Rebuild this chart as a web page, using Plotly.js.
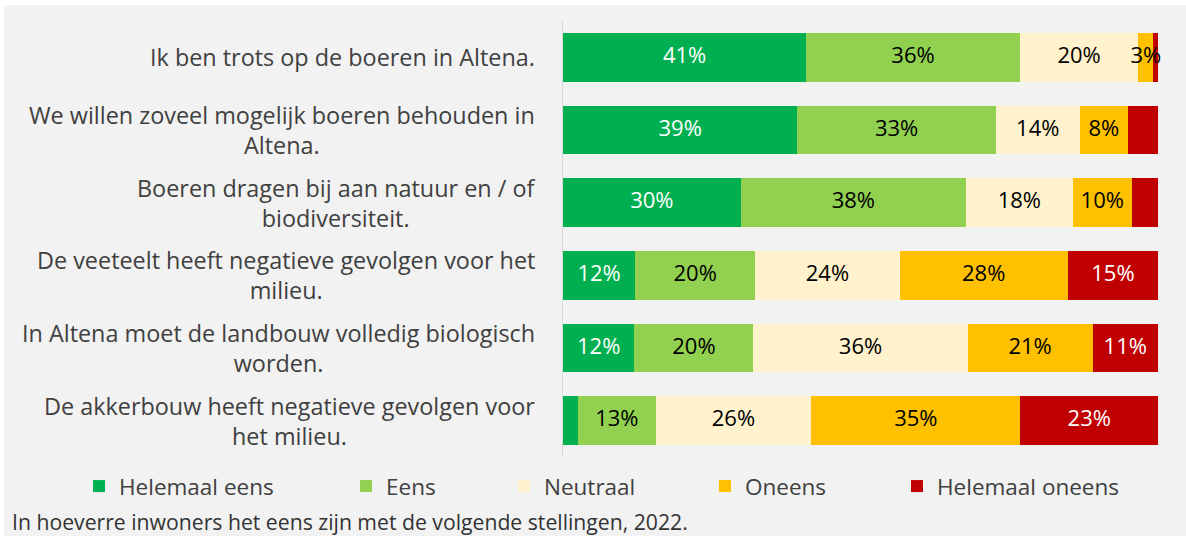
<!DOCTYPE html>
<html><head><meta charset="utf-8">
<script src="https://cdn.plot.ly/plotly-3.0.1.min.js"></script>
<style>
html,body{margin:0;padding:0;background:#ffffff;}
#chart{position:absolute;left:4px;top:5px;width:1182px;height:531px;}
</style></head>
<body><div id="chart"></div>
<script>
// ---- data ----
const categories = [
  'Ik ben trots op de boeren in Altena.',
  'We willen zoveel mogelijk boeren behouden in<br>Altena.',
  'Boeren dragen bij aan natuur en / of<br>biodiversiteit.',
  'De veeteelt heeft negatieve gevolgen voor het<br>milieu.',
  'In Altena moet de landbouw volledig biologisch<br>worden.',
  'De akkerbouw heeft negatieve gevolgen voor<br>het milieu.'
];
const seriesNames = ['Helemaal eens', 'Eens', 'Neutraal', 'Oneens', 'Helemaal oneens'];
const helemaalEens   = [41, 39, 30, 12, 12, 2.5];
const eens           = [36, 33, 38, 20, 20, 13];
const neutraal       = [20, 14, 18, 24, 36, 26];
const oneens         = [2.5, 8, 10, 28, 21, 35];
const helemaalOneens = [0.8, 5, 4.4, 15, 11, 23];
const labelsHelemaalEens   = ['41%', '39%', '30%', '12%', '12%', ''];
const labelsEens           = ['36%', '33%', '38%', '20%', '20%', '13%'];
const labelsNeutraal       = ['20%', '14%', '18%', '24%', '36%', '26%'];
const labelsOneens         = ['3%', '8%', '10%', '28%', '21%', '35%'];
const labelsHelemaalOneens = ['', '', '', '15%', '11%', '23%'];
const footnote = 'In hoeverre inwoners het eens zijn met de volgende stellingen, 2022.';

// ---- styling ----
const colors = ['#00B050', '#92D050', '#FFF2CC', '#FFC000', '#C00000'];
const textColors = ['#ffffff', '#000000', '#000000', '#000000', '#ffffff'];
const FONT = '"Open Sans", sans-serif';
const values = [helemaalEens, eens, neutraal, oneens, helemaalOneens];
const labels = [labelsHelemaalEens, labelsEens, labelsNeutraal, labelsOneens, labelsHelemaalOneens];
const legendIds = ['legend', 'legend2', 'legend3', 'legend4', 'legend5'];

const W = 1182, H = 531;
const M = {l: 559, r: 28, t: 15.5, b: 78.5};
const plotW = W - M.l - M.r, plotH = H - M.t - M.b;
const px2x = px => (px - M.l) / plotW;
const py2y = py => (H - M.b - py) / plotH;

// bars (normalised to 100% per row by plotly's barnorm)
const barTraces = seriesNames.map((name, i) => ({
  type: 'bar', orientation: 'h', name: name,
  x: values[i], y: categories,
  marker: {color: colors[i], line: {width: 0}},
  textposition: 'none',
  hoverinfo: 'skip', legend: legendIds[i]
}));

// data labels on top of all bars, centred in each (normalised) segment
const rowTotals = categories.map((_, r) => values.reduce((s, v) => s + v[r], 0));
const labelTraces = seriesNames.map((name, i) => ({
  type: 'scatter', mode: 'text', showlegend: false, hoverinfo: 'skip', cliponaxis: false,
  y: categories,
  x: categories.map((_, r) => {
    let start = 0;
    for (let k = 0; k < i; k++) start += values[k][r];
    return (start + values[i][r] / 2) / rowTotals[r] * 100;
  }),
  text: labels[i], textposition: 'middle center',
  textfont: {family: FONT, size: 22, color: textColors[i]}
}));

const symbolCenters = [98, 365, 523, 724, 916];
const layout = {
  width: W, height: H,
  margin: M,
  paper_bgcolor: '#F2F2F2', plot_bgcolor: '#F2F2F2',
  barmode: 'stack', barnorm: 'percent', bargap: 0.33,
  font: {family: FONT, color: '#404040'},
  hovermode: false,
  xaxis: {range: [0, 100], showgrid: false, zeroline: false, showticklabels: false, ticks: '', showline: false, fixedrange: true},
  yaxis: {autorange: 'reversed', showgrid: false, zeroline: false, showticklabels: false, ticks: '',
          showline: true, linecolor: '#D9D9D9', linewidth: 1.5, fixedrange: true},
  annotations: categories.map(c => ({
    xref: 'paper', yref: 'y', x: 0, y: c, xanchor: 'right', yanchor: 'middle',
    xshift: -26, text: c, align: 'center', showarrow: false,
    font: {family: FONT, size: 23.4, color: '#404040'}
  })).concat([{
    xref: 'paper', yref: 'paper', x: px2x(6), y: py2y(517), xanchor: 'left', yanchor: 'middle',
    text: footnote, showarrow: false, font: {family: FONT, size: 21.2, color: '#333333'}
  }]),
  showlegend: true
};
legendIds.forEach((id, i) => {
  layout[id] = {
    orientation: 'h', x: px2x(symbolCenters[i] - 23), xanchor: 'left',
    y: py2y(482), yanchor: 'middle', bgcolor: 'rgba(0,0,0,0)',
    font: {family: FONT, size: 22.5, color: '#404040'}
  };
});

Plotly.newPlot('chart', barTraces.concat(labelTraces), layout, {displayModeBar: false, staticPlot: true});
</script></body></html>
